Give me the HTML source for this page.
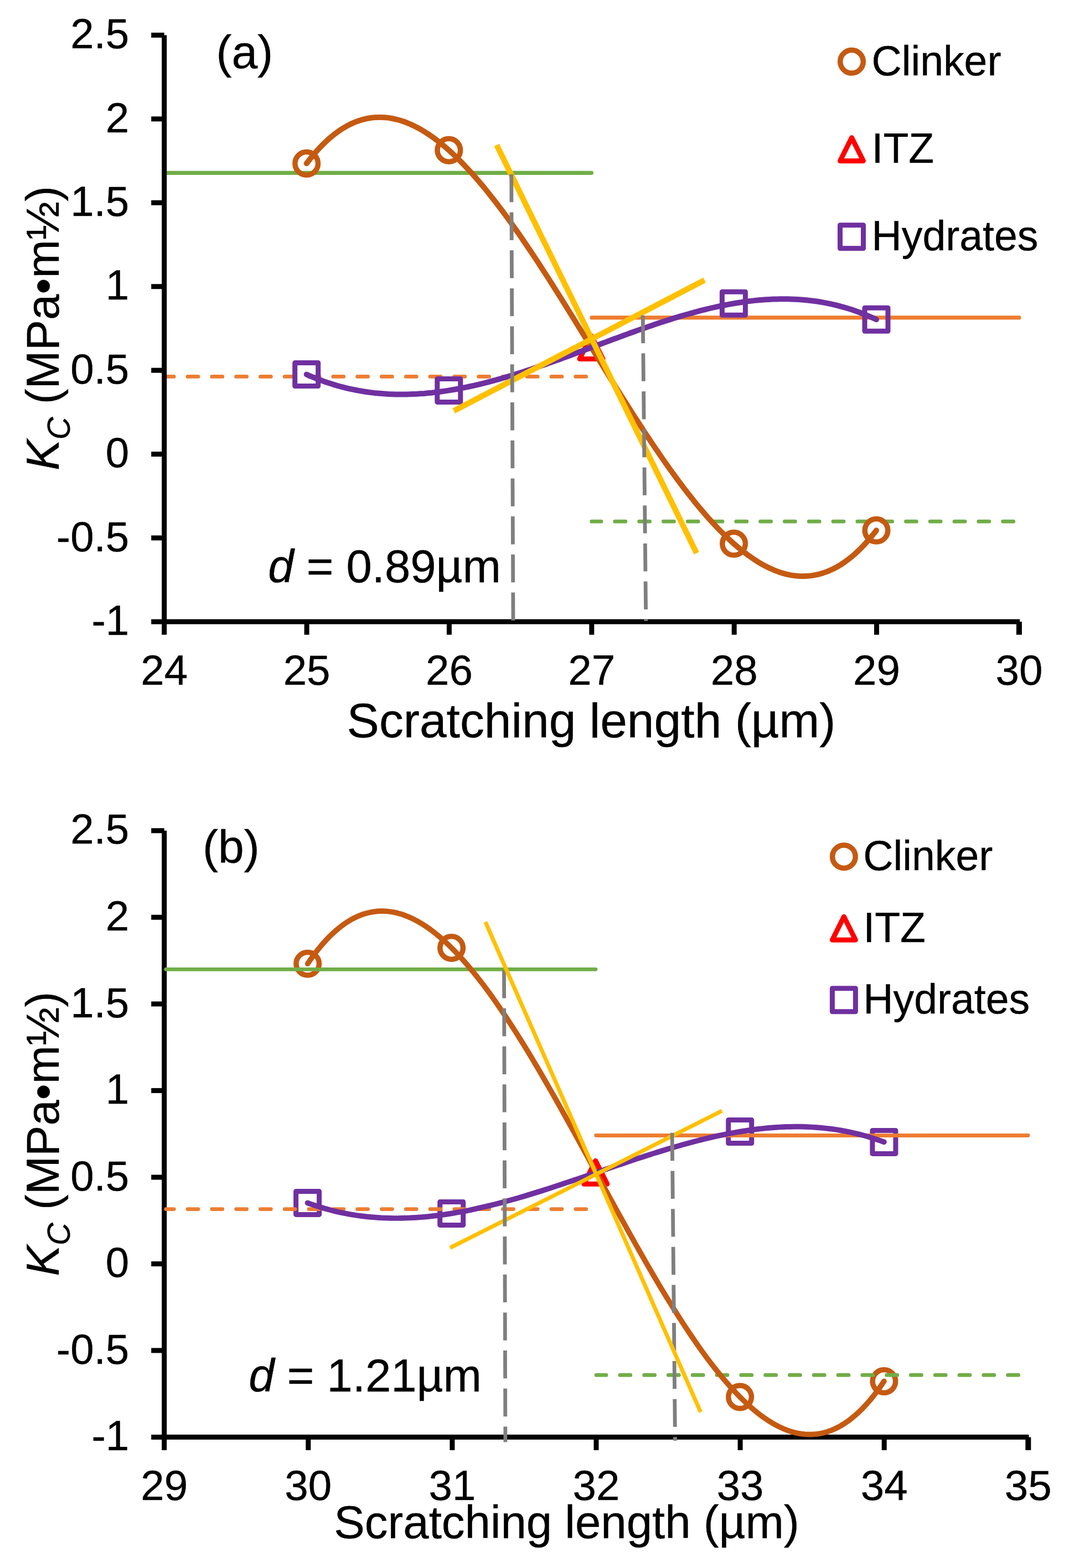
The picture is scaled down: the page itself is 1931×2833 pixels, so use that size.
<!DOCTYPE html>
<html><head><meta charset="utf-8"><title>Kc vs scratching length</title>
<style>
html,body{margin:0;padding:0;background:#fff;}
svg{display:block;}
text{font-family:'Liberation Sans', Arial, Helvetica, sans-serif;fill:#000;stroke:#000;stroke-width:0.4px;}
</style></head>
<body>
<svg width="1931" height="2833" viewBox="0 0 1931 2833">
<rect width="1931" height="2833" fill="#fff"/>
<g id="chart-a">
<line x1="297" y1="312.3" x2="1068.4" y2="312.3" stroke="#70ad47" stroke-width="7.3" stroke-linecap="round"/>
<line x1="1069.0" y1="573.9" x2="1840.8" y2="573.9" stroke="#ed7d31" stroke-width="7.3" stroke-linecap="round"/>
<line x1="297" y1="680.4" x2="1058.8" y2="680.4" stroke="#ed7d31" stroke-width="6.8" stroke-linecap="round" stroke-dasharray="19.0 24.8" stroke-dashoffset="1.8"/>
<line x1="1068.6" y1="942.2" x2="1830.6" y2="942.2" stroke="#70ad47" stroke-width="6.8" stroke-linecap="round" stroke-dasharray="19.0 24.8" stroke-dashoffset="1.6"/>
<g stroke="#000" stroke-width="9" fill="none">
<path d="M296.7,63.5 V1123.3 H1842.1"/>
<path d="M273.2,63.5 H296.7"/>
<path d="M273.2,214.9 H296.7"/>
<path d="M273.2,366.3 H296.7"/>
<path d="M273.2,517.7 H296.7"/>
<path d="M273.2,669.1 H296.7"/>
<path d="M273.2,820.5 H296.7"/>
<path d="M273.2,971.9 H296.7"/>
<path d="M273.2,1123.3 H296.7"/>
<path d="M296.7,1123.3 V1146.8"/>
<path d="M554.1,1123.3 V1146.8"/>
<path d="M811.4,1123.3 V1146.8"/>
<path d="M1068.8,1123.3 V1146.8"/>
<path d="M1326.2,1123.3 V1146.8"/>
<path d="M1583.5,1123.3 V1146.8"/>
<path d="M1840.9,1123.3 V1146.8" stroke-width="10"/>
</g>
<path d="M1068.0,606.6 L1089.0,648.6 L1047.0,648.6 Z" stroke="#ff0000" stroke-width="9" fill="none" stroke-linejoin="round"/>
<circle cx="553.7" cy="295.4" r="20.8" stroke="#c55a11" stroke-width="9.5" fill="none"/>
<circle cx="810.8" cy="271.4" r="20.8" stroke="#c55a11" stroke-width="9.5" fill="none"/>
<circle cx="1325.6" cy="982.3" r="20.8" stroke="#c55a11" stroke-width="9.5" fill="none"/>
<circle cx="1583.0" cy="958.3" r="20.8" stroke="#c55a11" stroke-width="9.5" fill="none"/>
<rect x="532.7" y="655.5" width="42.0" height="42.0" stroke="#7030a0" stroke-width="9" fill="none" stroke-linejoin="round"/>
<rect x="789.8" y="684.4" width="42.0" height="42.0" stroke="#7030a0" stroke-width="9" fill="none" stroke-linejoin="round"/>
<rect x="1304.4" y="527.3" width="42.0" height="42.0" stroke="#7030a0" stroke-width="9" fill="none" stroke-linejoin="round"/>
<rect x="1562.0" y="556.3" width="42.0" height="42.0" stroke="#7030a0" stroke-width="9" fill="none" stroke-linejoin="round"/>
<path d="M553.7,295.4 L560.1,287.1 L566.6,279.2 L573.0,271.8 L579.4,264.9 L585.9,258.5 L592.3,252.4 L598.7,246.9 L605.2,241.7 L611.6,237.0 L618.0,232.7 L624.5,228.9 L630.9,225.4 L637.3,222.4 L643.8,219.7 L650.2,217.5 L656.6,215.6 L663.1,214.1 L669.5,213.0 L675.9,212.3 L682.4,211.9 L688.8,211.9 L695.2,212.2 L701.7,212.9 L708.1,214.0 L714.5,215.3 L721.0,217.0 L727.4,219.0 L733.8,221.3 L740.3,224.0 L746.7,226.9 L753.1,230.1 L759.6,233.6 L766.0,237.5 L772.4,241.5 L778.9,245.9 L785.3,250.5 L791.7,255.4 L798.2,260.6 L804.6,266.0 L811.0,271.6 L817.5,277.5 L823.9,283.6 L830.3,289.9 L836.8,296.5 L843.2,303.2 L849.6,310.2 L856.1,317.4 L862.5,324.7 L868.9,332.3 L875.4,340.0 L881.8,348.0 L888.2,356.1 L894.7,364.3 L901.1,372.7 L907.5,381.3 L914.0,390.0 L920.4,398.9 L926.8,407.9 L933.3,417.0 L939.7,426.2 L946.1,435.6 L952.6,445.1 L959.0,454.6 L965.4,464.3 L971.9,474.1 L978.3,483.9 L984.7,493.9 L991.2,503.9 L997.6,514.0 L1004.0,524.2 L1010.5,534.4 L1016.9,544.6 L1023.3,554.9 L1029.8,565.3 L1036.2,575.7 L1042.6,586.1 L1049.1,596.5 L1055.5,607.0 L1061.9,617.4 L1068.3,627.9 L1074.8,638.3 L1081.2,648.8 L1087.6,659.2 L1094.1,669.7 L1100.5,680.1 L1106.9,690.4 L1113.4,700.8 L1119.8,711.1 L1126.2,721.3 L1132.7,731.5 L1139.1,741.6 L1145.5,751.7 L1152.0,761.6 L1158.4,771.5 L1164.8,781.4 L1171.3,791.1 L1177.7,800.7 L1184.1,810.3 L1190.6,819.7 L1197.0,829.0 L1203.4,838.2 L1209.9,847.3 L1216.3,856.2 L1222.7,865.0 L1229.2,873.7 L1235.6,882.2 L1242.0,890.5 L1248.5,898.7 L1254.9,906.8 L1261.3,914.6 L1267.8,922.3 L1274.2,929.8 L1280.6,937.1 L1287.1,944.2 L1293.5,951.1 L1299.9,957.8 L1306.4,964.3 L1312.8,970.5 L1319.2,976.6 L1325.7,982.4 L1332.1,987.9 L1338.5,993.3 L1345.0,998.3 L1351.4,1003.2 L1357.8,1007.7 L1364.3,1012.0 L1370.7,1016.1 L1377.1,1019.8 L1383.6,1023.3 L1390.0,1026.4 L1396.4,1029.3 L1402.9,1031.9 L1409.3,1034.2 L1415.7,1036.1 L1422.2,1037.8 L1428.6,1039.1 L1435.0,1040.1 L1441.5,1040.7 L1447.9,1041.0 L1454.3,1041.0 L1460.8,1040.6 L1467.2,1039.9 L1473.6,1038.7 L1480.1,1037.3 L1486.5,1035.4 L1492.9,1033.1 L1499.4,1030.5 L1505.8,1027.5 L1512.2,1024.1 L1518.7,1020.2 L1525.1,1016.0 L1531.5,1011.3 L1538.0,1006.2 L1544.4,1000.7 L1550.8,994.8 L1557.3,988.4 L1563.7,981.5 L1570.1,974.3 L1576.6,966.5 L1583.0,958.3" stroke="#c55a11" stroke-width="10" fill="none" stroke-linecap="round" stroke-linejoin="round"/>
<path d="M553.7,676.5 L560.1,679.3 L566.6,682.0 L573.0,684.6 L579.4,687.0 L585.9,689.4 L592.3,691.6 L598.7,693.6 L605.2,695.6 L611.6,697.5 L618.0,699.2 L624.5,700.8 L630.9,702.3 L637.3,703.7 L643.8,705.0 L650.2,706.2 L656.6,707.3 L663.1,708.2 L669.5,709.1 L675.9,709.9 L682.4,710.5 L688.8,711.1 L695.2,711.6 L701.7,712.0 L708.1,712.2 L714.5,712.4 L721.0,712.5 L727.4,712.6 L733.8,712.5 L740.3,712.3 L746.7,712.1 L753.1,711.8 L759.6,711.3 L766.0,710.9 L772.4,710.3 L778.9,709.7 L785.3,708.9 L791.7,708.2 L798.2,707.3 L804.6,706.4 L811.0,705.4 L817.5,704.3 L823.9,703.2 L830.3,702.0 L836.8,700.7 L843.2,699.4 L849.6,698.0 L856.1,696.6 L862.5,695.1 L868.9,693.6 L875.4,692.0 L881.8,690.3 L888.2,688.6 L894.7,686.9 L901.1,685.1 L907.5,683.3 L914.0,681.4 L920.4,679.5 L926.8,677.5 L933.3,675.5 L939.7,673.5 L946.1,671.4 L952.6,669.3 L959.0,667.2 L965.4,665.0 L971.9,662.8 L978.3,660.6 L984.7,658.4 L991.2,656.1 L997.6,653.8 L1004.0,651.5 L1010.5,649.2 L1016.9,646.9 L1023.3,644.5 L1029.8,642.2 L1036.2,639.8 L1042.6,637.4 L1049.1,635.0 L1055.5,632.6 L1061.9,630.2 L1068.3,627.8 L1074.8,625.4 L1081.2,623.0 L1087.6,620.5 L1094.1,618.1 L1100.5,615.7 L1106.9,613.3 L1113.4,611.0 L1119.8,608.6 L1126.2,606.2 L1132.7,603.9 L1139.1,601.5 L1145.5,599.2 L1152.0,596.9 L1158.4,594.6 L1164.8,592.4 L1171.3,590.1 L1177.7,587.9 L1184.1,585.8 L1190.6,583.6 L1197.0,581.5 L1203.4,579.4 L1209.9,577.4 L1216.3,575.3 L1222.7,573.4 L1229.2,571.4 L1235.6,569.5 L1242.0,567.7 L1248.5,565.9 L1254.9,564.1 L1261.3,562.4 L1267.8,560.7 L1274.2,559.1 L1280.6,557.5 L1287.1,556.0 L1293.5,554.6 L1299.9,553.2 L1306.4,551.9 L1312.8,550.6 L1319.2,549.4 L1325.7,548.3 L1332.1,547.2 L1338.5,546.2 L1345.0,545.3 L1351.4,544.4 L1357.8,543.6 L1364.3,542.9 L1370.7,542.3 L1377.1,541.7 L1383.6,541.3 L1390.0,540.9 L1396.4,540.6 L1402.9,540.4 L1409.3,540.3 L1415.7,540.2 L1422.2,540.3 L1428.6,540.5 L1435.0,540.7 L1441.5,541.1 L1447.9,541.5 L1454.3,542.1 L1460.8,542.7 L1467.2,543.5 L1473.6,544.3 L1480.1,545.3 L1486.5,546.4 L1492.9,547.6 L1499.4,548.9 L1505.8,550.4 L1512.2,551.9 L1518.7,553.6 L1525.1,555.4 L1531.5,557.3 L1538.0,559.3 L1544.4,561.5 L1550.8,563.8 L1557.3,566.2 L1563.7,568.8 L1570.1,571.5 L1576.6,574.3 L1583.0,577.3" stroke="#7030a0" stroke-width="10" fill="none" stroke-linecap="round" stroke-linejoin="round"/>
<line x1="897.2" y1="262" x2="1258.3" y2="999.4" stroke="#ffc000" stroke-width="10.3"/>
<line x1="819.7" y1="742.4" x2="1272.7" y2="506" stroke="#ffc000" stroke-width="10.3"/>
<line x1="923.7" y1="314.8" x2="927" y2="1122" stroke="#7f7f7f" stroke-width="6.8" stroke-dasharray="50.4 18.3"/>
<line x1="1161.2" y1="569.7" x2="1166.8" y2="1122" stroke="#7f7f7f" stroke-width="6.8" stroke-dasharray="50.4 18.3"/>
<circle cx="1538.5" cy="111.3" r="20.8" stroke="#c55a11" stroke-width="9.5" fill="none"/>
<text x="1574.5" y="135.6" font-size="75.2">Clinker</text>
<path d="M1538.5,248.7 L1559.5,290.7 L1517.5,290.7 Z" stroke="#ff0000" stroke-width="9" fill="none" stroke-linejoin="round"/>
<text x="1574.5" y="294" font-size="75.2">ITZ</text>
<rect x="1517.5" y="406.7" width="42.0" height="42.0" stroke="#7030a0" stroke-width="9" fill="none" stroke-linejoin="round"/>
<text x="1574.5" y="452" font-size="75.2">Hydrates</text>
<text x="233.3" y="87.1" font-size="76.3" text-anchor="end">2.5</text>
<text x="233.3" y="238.5" font-size="76.3" text-anchor="end">2</text>
<text x="233.3" y="389.9" font-size="76.3" text-anchor="end">1.5</text>
<text x="233.3" y="541.3" font-size="76.3" text-anchor="end">1</text>
<text x="233.3" y="692.7" font-size="76.3" text-anchor="end">0.5</text>
<text x="233.3" y="844.1" font-size="76.3" text-anchor="end">0</text>
<text x="233.3" y="995.5" font-size="76.3" text-anchor="end">-0.5</text>
<text x="233.3" y="1146.9" font-size="76.3" text-anchor="end">-1</text>
<text x="296.7" y="1236.7" font-size="76.3" text-anchor="middle">24</text>
<text x="554.1" y="1236.7" font-size="76.3" text-anchor="middle">25</text>
<text x="811.4" y="1236.7" font-size="76.3" text-anchor="middle">26</text>
<text x="1068.8" y="1236.7" font-size="76.3" text-anchor="middle">27</text>
<text x="1326.2" y="1236.7" font-size="76.3" text-anchor="middle">28</text>
<text x="1583.5" y="1236.7" font-size="76.3" text-anchor="middle">29</text>
<text x="1840.9" y="1236.7" font-size="76.3" text-anchor="middle">30</text>
<text x="1068" y="1332.1" font-size="87.6" text-anchor="middle">Scratching length (µm)</text>
<text transform="translate(105.9,593.0) rotate(-90)" font-size="83.2" text-anchor="middle"><tspan font-style="italic">K</tspan><tspan font-style="italic" font-size="56.6" dy="20.4">C</tspan><tspan dy="-20.4"> (MPa•m½)</tspan></text>
<text x="390.5" y="123" font-size="84">(a)</text>
<text x="484.2" y="1052.1" font-size="83.3"><tspan font-style="italic">d</tspan> = 0.89µm</text>
</g>
<g id="chart-b">
<g stroke="#000" stroke-width="9" fill="none">
<path d="M296.7,1500.8 V2596.58 H1858.5"/>
<path d="M273.2,1500.8 H296.7"/>
<path d="M273.2,1657.3 H296.7"/>
<path d="M273.2,1813.9 H296.7"/>
<path d="M273.2,1970.4 H296.7"/>
<path d="M273.2,2127.0 H296.7"/>
<path d="M273.2,2283.5 H296.7"/>
<path d="M273.2,2440.0 H296.7"/>
<path d="M273.2,2596.6 H296.7"/>
<path d="M296.7,2596.6 V2620.1"/>
<path d="M556.8,2596.6 V2620.1"/>
<path d="M816.9,2596.6 V2620.1"/>
<path d="M1077.0,2596.6 V2620.1"/>
<path d="M1337.1,2596.6 V2620.1"/>
<path d="M1597.2,2596.6 V2620.1"/>
<path d="M1857.3,2596.6 V2620.1" stroke-width="10"/>
</g>
<path d="M1075.8,2097.3 L1096.8,2139.3 L1054.8,2139.3 Z" stroke="#ff0000" stroke-width="9" fill="none" stroke-linejoin="round"/>
<circle cx="555.7" cy="1741.2" r="20.8" stroke="#c55a11" stroke-width="9.5" fill="none"/>
<circle cx="815.6" cy="1712.5" r="20.8" stroke="#c55a11" stroke-width="9.5" fill="none"/>
<circle cx="1336.6" cy="2524.0" r="20.8" stroke="#c55a11" stroke-width="9.5" fill="none"/>
<circle cx="1596.9" cy="2495.6" r="20.8" stroke="#c55a11" stroke-width="9.5" fill="none"/>
<rect x="534.6" y="2152.4" width="42.0" height="42.0" stroke="#7030a0" stroke-width="9" fill="none" stroke-linejoin="round"/>
<rect x="794.7" y="2171.4" width="42.0" height="42.0" stroke="#7030a0" stroke-width="9" fill="none" stroke-linejoin="round"/>
<rect x="1315.7" y="2023.6" width="42.0" height="42.0" stroke="#7030a0" stroke-width="9" fill="none" stroke-linejoin="round"/>
<rect x="1575.9" y="2042.4" width="42.0" height="42.0" stroke="#7030a0" stroke-width="9" fill="none" stroke-linejoin="round"/>
<line x1="299.7" y1="1751.3" x2="1076" y2="1751.3" stroke="#70ad47" stroke-width="6.8" stroke-linecap="round"/>
<line x1="1076.7" y1="2051.5" x2="1857" y2="2051.5" stroke="#ed7d31" stroke-width="6.8" stroke-linecap="round"/>
<line x1="299.7" y1="2184.6" x2="1058.8" y2="2184.6" stroke="#ed7d31" stroke-width="6.8" stroke-linecap="round" stroke-dasharray="19.0 24.8" stroke-dashoffset="4.5"/>
<line x1="1077.1" y1="2484.4" x2="1839.6" y2="2484.4" stroke="#70ad47" stroke-width="6.8" stroke-linecap="round" stroke-dasharray="19.0 24.8" stroke-dashoffset="1.1"/>
<path d="M555.7,1741.2 L562.2,1731.8 L568.7,1722.9 L575.2,1714.6 L581.7,1706.7 L588.2,1699.4 L594.7,1692.6 L601.3,1686.3 L607.8,1680.4 L614.3,1675.1 L620.8,1670.2 L627.3,1665.8 L633.8,1661.8 L640.3,1658.4 L646.8,1655.3 L653.3,1652.7 L659.8,1650.6 L666.3,1648.9 L672.8,1647.6 L679.3,1646.7 L685.9,1646.2 L692.4,1646.2 L698.9,1646.5 L705.4,1647.2 L711.9,1648.3 L718.4,1649.8 L724.9,1651.7 L731.4,1653.9 L737.9,1656.5 L744.4,1659.4 L750.9,1662.7 L757.4,1666.3 L763.9,1670.2 L770.4,1674.5 L777.0,1679.1 L783.5,1684.0 L790.0,1689.2 L796.5,1694.7 L803.0,1700.5 L809.5,1706.5 L816.0,1712.9 L822.5,1719.5 L829.0,1726.4 L835.5,1733.5 L842.0,1740.9 L848.5,1748.6 L855.0,1756.5 L861.6,1764.6 L868.1,1772.9 L874.6,1781.4 L881.1,1790.2 L887.6,1799.2 L894.1,1808.3 L900.6,1817.7 L907.1,1827.2 L913.6,1836.9 L920.1,1846.8 L926.6,1856.8 L933.1,1867.0 L939.6,1877.4 L946.2,1887.9 L952.7,1898.5 L959.2,1909.3 L965.7,1920.2 L972.2,1931.2 L978.7,1942.3 L985.2,1953.5 L991.7,1964.8 L998.2,1976.2 L1004.7,1987.7 L1011.2,1999.2 L1017.7,2010.9 L1024.2,2022.6 L1030.7,2034.3 L1037.3,2046.1 L1043.8,2057.9 L1050.3,2069.8 L1056.8,2081.7 L1063.3,2093.6 L1069.8,2105.6 L1076.3,2117.5 L1082.8,2129.4 L1089.3,2141.4 L1095.8,2153.3 L1102.3,2165.2 L1108.8,2177.1 L1115.3,2189.0 L1121.9,2200.8 L1128.4,2212.5 L1134.9,2224.3 L1141.4,2235.9 L1147.9,2247.5 L1154.4,2259.0 L1160.9,2270.4 L1167.4,2281.8 L1173.9,2293.0 L1180.4,2304.2 L1186.9,2315.2 L1193.4,2326.2 L1199.9,2337.0 L1206.5,2347.7 L1213.0,2358.2 L1219.5,2368.6 L1226.0,2378.9 L1232.5,2389.0 L1239.0,2398.9 L1245.5,2408.7 L1252.0,2418.3 L1258.5,2427.7 L1265.0,2437.0 L1271.5,2446.0 L1278.0,2454.8 L1284.5,2463.4 L1291.0,2471.8 L1297.6,2480.0 L1304.1,2488.0 L1310.6,2495.7 L1317.1,2503.1 L1323.6,2510.3 L1330.1,2517.3 L1336.6,2524.0 L1343.1,2530.4 L1349.6,2536.6 L1356.1,2542.4 L1362.6,2548.0 L1369.1,2553.3 L1375.6,2558.2 L1382.2,2562.9 L1388.7,2567.2 L1395.2,2571.2 L1401.7,2574.9 L1408.2,2578.2 L1414.7,2581.2 L1421.2,2583.8 L1427.7,2586.1 L1434.2,2588.0 L1440.7,2589.5 L1447.2,2590.6 L1453.7,2591.4 L1460.2,2591.7 L1466.8,2591.7 L1473.3,2591.2 L1479.8,2590.4 L1486.3,2589.1 L1492.8,2587.3 L1499.3,2585.2 L1505.8,2582.6 L1512.3,2579.5 L1518.8,2576.0 L1525.3,2572.0 L1531.8,2567.6 L1538.3,2562.6 L1544.8,2557.2 L1551.3,2551.3 L1557.9,2544.9 L1564.4,2538.0 L1570.9,2530.6 L1577.4,2522.6 L1583.9,2514.2 L1590.4,2505.1 L1596.9,2495.6" stroke="#c55a11" stroke-width="9.7" fill="none" stroke-linecap="round" stroke-linejoin="round"/>
<path d="M555.6,2173.4 L562.1,2175.7 L568.6,2177.9 L575.1,2180.0 L581.6,2182.0 L588.1,2183.9 L594.6,2185.7 L601.2,2187.4 L607.7,2188.9 L614.2,2190.4 L620.7,2191.8 L627.2,2193.0 L633.7,2194.2 L640.2,2195.3 L646.7,2196.2 L653.2,2197.1 L659.7,2197.9 L666.2,2198.6 L672.7,2199.2 L679.3,2199.7 L685.8,2200.1 L692.3,2200.5 L698.8,2200.7 L705.3,2200.9 L711.8,2201.0 L718.3,2201.0 L724.8,2200.9 L731.3,2200.7 L737.8,2200.5 L744.3,2200.2 L750.8,2199.8 L757.4,2199.4 L763.9,2198.9 L770.4,2198.3 L776.9,2197.6 L783.4,2196.9 L789.9,2196.1 L796.4,2195.3 L802.9,2194.4 L809.4,2193.4 L815.9,2192.4 L822.4,2191.3 L828.9,2190.1 L835.4,2188.9 L842.0,2187.7 L848.5,2186.4 L855.0,2185.0 L861.5,2183.6 L868.0,2182.1 L874.5,2180.6 L881.0,2179.1 L887.5,2177.5 L894.0,2175.9 L900.5,2174.2 L907.0,2172.5 L913.5,2170.7 L920.1,2168.9 L926.6,2167.1 L933.1,2165.3 L939.6,2163.4 L946.1,2161.5 L952.6,2159.5 L959.1,2157.5 L965.6,2155.5 L972.1,2153.5 L978.6,2151.5 L985.1,2149.4 L991.6,2147.3 L998.2,2145.2 L1004.7,2143.0 L1011.2,2140.9 L1017.7,2138.7 L1024.2,2136.5 L1030.7,2134.4 L1037.2,2132.2 L1043.7,2130.0 L1050.2,2127.7 L1056.7,2125.5 L1063.2,2123.3 L1069.7,2121.1 L1076.2,2118.8 L1082.8,2116.6 L1089.3,2114.4 L1095.8,2112.1 L1102.3,2109.9 L1108.8,2107.7 L1115.3,2105.5 L1121.8,2103.3 L1128.3,2101.1 L1134.8,2098.9 L1141.3,2096.7 L1147.8,2094.5 L1154.3,2092.4 L1160.9,2090.3 L1167.4,2088.2 L1173.9,2086.1 L1180.4,2084.0 L1186.9,2082.0 L1193.4,2080.0 L1199.9,2078.0 L1206.4,2076.0 L1212.9,2074.1 L1219.4,2072.1 L1225.9,2070.3 L1232.4,2068.4 L1239.0,2066.6 L1245.5,2064.8 L1252.0,2063.1 L1258.5,2061.4 L1265.0,2059.8 L1271.5,2058.1 L1278.0,2056.6 L1284.5,2055.0 L1291.0,2053.6 L1297.5,2052.1 L1304.0,2050.7 L1310.5,2049.4 L1317.1,2048.1 L1323.6,2046.9 L1330.1,2045.7 L1336.6,2044.6 L1343.1,2043.6 L1349.6,2042.6 L1356.1,2041.6 L1362.6,2040.8 L1369.1,2039.9 L1375.6,2039.2 L1382.1,2038.5 L1388.6,2037.9 L1395.1,2037.4 L1401.7,2036.9 L1408.2,2036.5 L1414.7,2036.2 L1421.2,2035.9 L1427.7,2035.8 L1434.2,2035.7 L1440.7,2035.7 L1447.2,2035.7 L1453.7,2035.9 L1460.2,2036.1 L1466.7,2036.5 L1473.2,2036.9 L1479.8,2037.4 L1486.3,2038.0 L1492.8,2038.7 L1499.3,2039.4 L1505.8,2040.3 L1512.3,2041.3 L1518.8,2042.4 L1525.3,2043.5 L1531.8,2044.8 L1538.3,2046.2 L1544.8,2047.7 L1551.3,2049.2 L1557.9,2050.9 L1564.4,2052.7 L1570.9,2054.6 L1577.4,2056.7 L1583.9,2058.8 L1590.4,2061.0 L1596.9,2063.4" stroke="#7030a0" stroke-width="9.7" fill="none" stroke-linecap="round" stroke-linejoin="round"/>
<line x1="813" y1="2254.6" x2="1304.2" y2="2007.0" stroke="#ffc000" stroke-width="7.3"/>
<line x1="910.5" y1="1753.1" x2="912.9" y2="2605.5" stroke="#7f7f7f" stroke-width="6.8" stroke-dasharray="50.4 18.3"/>
<line x1="1214.1" y1="2046.8" x2="1219.5" y2="2603" stroke="#7f7f7f" stroke-width="6.8" stroke-dasharray="50.4 18.3"/>
<line x1="876.8" y1="1665.7" x2="1265.6" y2="2551.4" stroke="#ffc000" stroke-width="7.3"/>
<circle cx="1524.4" cy="1547.7" r="20.8" stroke="#c55a11" stroke-width="9.5" fill="none"/>
<text x="1559.3" y="1572" font-size="75.2">Clinker</text>
<path d="M1524.4,1656.2 L1545.4,1698.2 L1503.4,1698.2 Z" stroke="#ff0000" stroke-width="9" fill="none" stroke-linejoin="round"/>
<text x="1559.3" y="1701.5" font-size="75.2">ITZ</text>
<rect x="1503.4" y="1785.7" width="42.0" height="42.0" stroke="#7030a0" stroke-width="9" fill="none" stroke-linejoin="round"/>
<text x="1559.3" y="1831" font-size="75.2">Hydrates</text>
<text x="233.3" y="1524.4" font-size="76.3" text-anchor="end">2.5</text>
<text x="233.3" y="1680.9" font-size="76.3" text-anchor="end">2</text>
<text x="233.3" y="1837.5" font-size="76.3" text-anchor="end">1.5</text>
<text x="233.3" y="1994.0" font-size="76.3" text-anchor="end">1</text>
<text x="233.3" y="2150.6" font-size="76.3" text-anchor="end">0.5</text>
<text x="233.3" y="2307.1" font-size="76.3" text-anchor="end">0</text>
<text x="233.3" y="2463.6" font-size="76.3" text-anchor="end">-0.5</text>
<text x="233.3" y="2620.2" font-size="76.3" text-anchor="end">-1</text>
<text x="296.7" y="2710.0" font-size="76.3" text-anchor="middle">29</text>
<text x="556.8" y="2710.0" font-size="76.3" text-anchor="middle">30</text>
<text x="816.9" y="2710.0" font-size="76.3" text-anchor="middle">31</text>
<text x="1077.0" y="2710.0" font-size="76.3" text-anchor="middle">32</text>
<text x="1337.1" y="2710.0" font-size="76.3" text-anchor="middle">33</text>
<text x="1597.2" y="2710.0" font-size="76.3" text-anchor="middle">34</text>
<text x="1857.3" y="2710.0" font-size="76.3" text-anchor="middle">35</text>
<text x="1023.5" y="2778.8" font-size="83.4" text-anchor="middle">Scratching length (µm)</text>
<text transform="translate(105.9,2048.7) rotate(-90)" font-size="83.2" text-anchor="middle"><tspan font-style="italic">K</tspan><tspan font-style="italic" font-size="56.6" dy="20.4">C</tspan><tspan dy="-20.4"> (MPa•m½)</tspan></text>
<text x="366" y="1559" font-size="84">(b)</text>
<text x="449.2" y="2513.5" font-size="83.3"><tspan font-style="italic">d</tspan> = 1.21µm</text>
</g>
</svg>
</body></html>
